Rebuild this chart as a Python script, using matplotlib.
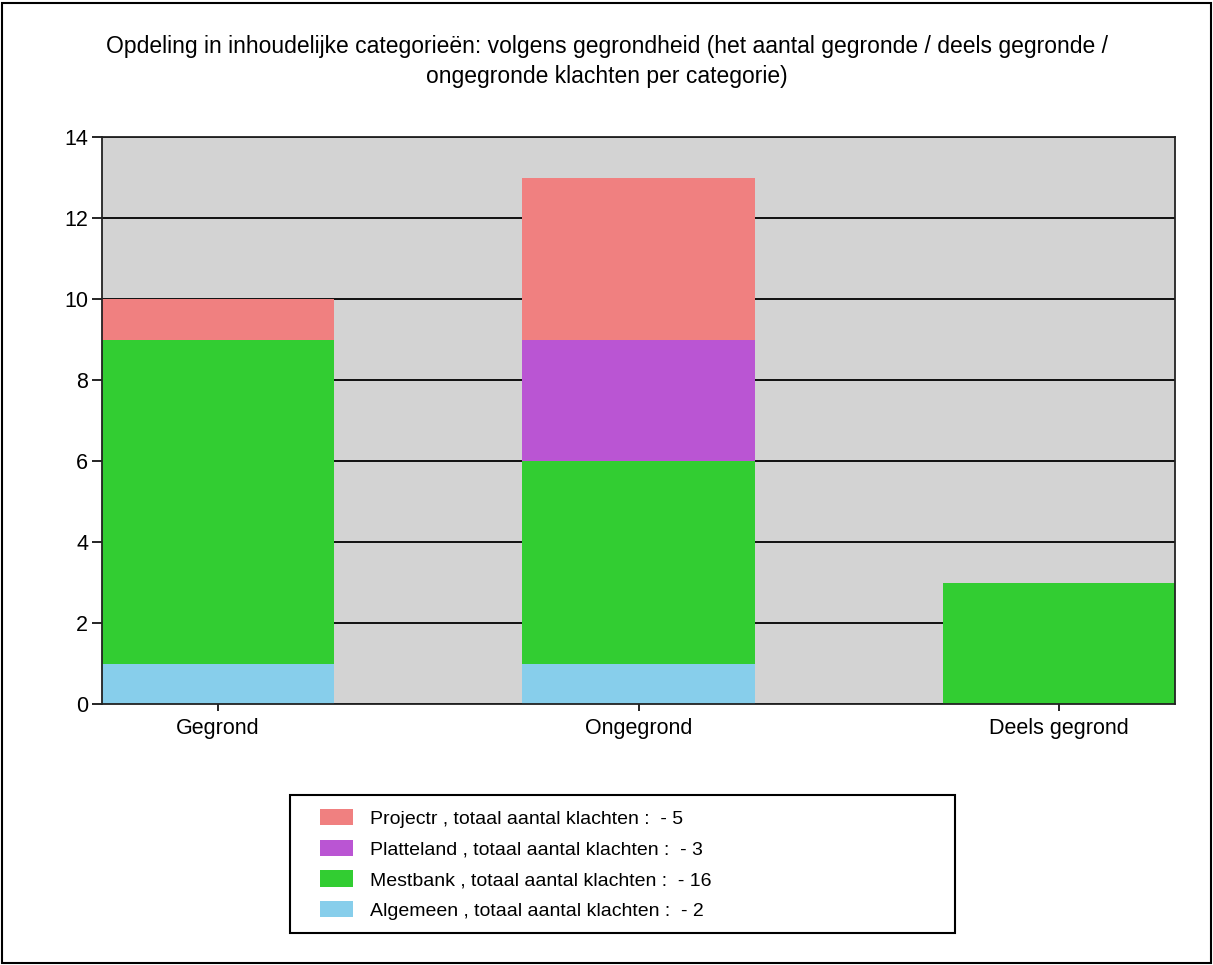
import matplotlib
matplotlib.use("Agg")
import matplotlib.pyplot as plt
import numpy as np
from matplotlib.patches import Rectangle

plt.rcParams['font.family'] = ['Liberation Sans', 'DejaVu Sans']

categories = ["Gegrond", "Ongegrond", "Deels gegrond"]
algemeen = [1, 1, 0]
mestbank = [8, 5, 3]
platteland = [0, 3, 0]
projectr = [1, 4, 0]

series = [
    ("Algemeen , totaal aantal klachten :  - 2", algemeen, "#87CEEB"),
    ("Mestbank , totaal aantal klachten :  - 16", mestbank, "#32CD32"),
    ("Platteland , totaal aantal klachten :  - 3", platteland, "#BA55D3"),
    ("Projectr , totaal aantal klachten :  - 5", projectr, "#F08080"),
]
title = ("Opdeling in inhoudelijke categorieën: volgens gegrondheid (het aantal gegronde / deels gegronde /\n"
         "ongegronde klachten per categorie)")

W, H = 1213, 965
fig = plt.figure(figsize=(W / 100, H / 100), dpi=100)
ax = fig.add_axes([102 / W, 1 - 704 / H, (1175 - 102) / W, (704 - 137) / H])
ax.set_facecolor("#D3D3D3")

x = np.arange(len(categories))
width = 0.552
bottom = np.zeros(len(categories))
handles = []
for label, vals, col in series:
    b = ax.bar(x, vals, width, bottom=bottom, color=col, label=label, zorder=2)
    handles.append(b)
    bottom += np.array(vals)

ax.set_xlim(-width / 2, 2 + width / 2)
ax.set_ylim(0, 14)
ax.set_yticks(range(0, 15, 2))
ax.set_xticks(x)
ax.set_xticklabels(categories)
ax.yaxis.grid(True, color="black", linewidth=1.3, zorder=1)
ax.set_axisbelow(True)
for s in ax.spines.values():
    s.set_linewidth(1.3)
    s.set_color("#222222")
ax.tick_params(axis="y", length=7, width=1.2, labelsize=15.5, pad=3)
ax.tick_params(axis="x", length=5, width=1.2, labelsize=15.5, pad=5)

fig.text(0.5, 1 - 35 / H, title, ha="center", va="top", fontsize=16.5, linespacing=1.4)

# legend box drawn separately, entries placed inside
fig.patches.append(Rectangle((290 / W, 1 - 933 / H), 665 / W, 138 / H, transform=fig.transFigure,
                             fill=False, edgecolor="black", linewidth=1.5))
fs = 14
leg = fig.legend(handles[::-1], [s[0] for s in series][::-1],
                 loc="upper left", bbox_to_anchor=(320 / W, 1 - 809 / H),
                 fontsize=fs, frameon=False,
                 handlelength=33 / (fs * 100 / 72), handleheight=18 / (fs * 100 / 72),
                 labelspacing=0.6, borderpad=0, handletextpad=0.85, borderaxespad=0)

fig.patches.append(Rectangle((0.002, 0.002), 0.996, 0.995, transform=fig.transFigure,
                             fill=False, edgecolor="black", linewidth=1.5))

fig.savefig("out.png", dpi=100)
